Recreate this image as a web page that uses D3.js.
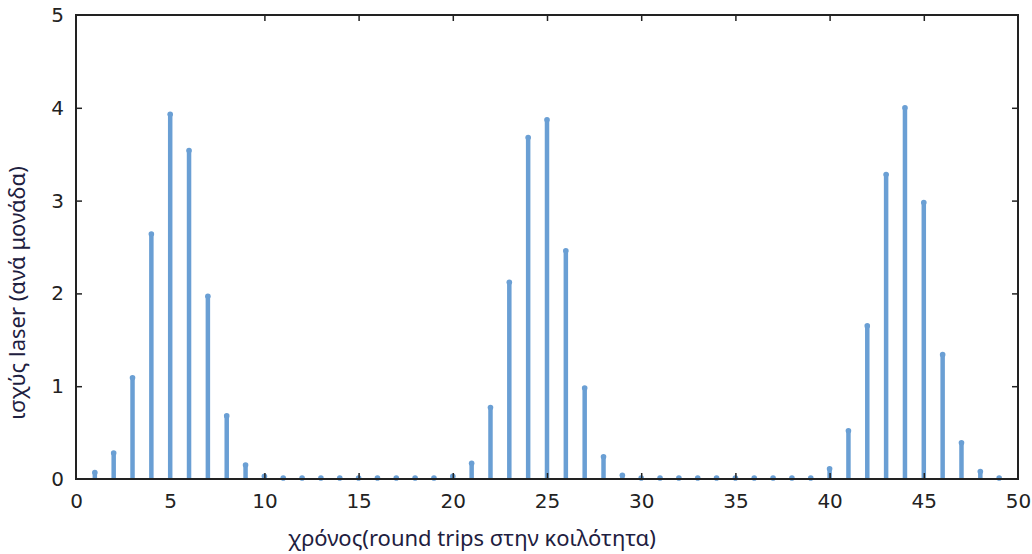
<!DOCTYPE html>
<html>
<head>
<meta charset="utf-8">
<script src="https://cdn.jsdelivr.net/npm/d3@7"></script>
<style>
  body { margin: 0; background: #fff; }
  svg { display: block; }
  .tick text { font-family: "DejaVu Sans", Verdana, sans-serif; font-size: 20px; fill: #222; }
  .axis-title { font-family: "Noto Sans", "Open Sans", sans-serif; font-size: 22px; fill: #1e2040; }
</style>
</head>
<body>
<svg id="chart" width="1032" height="554"></svg>
<script>
// round trips 1..49 and laser power per unit
const trips = d3.range(1, 50);
const power = [
  0.07, 0.28, 1.09, 2.64, 3.93, 3.54, 1.97, 0.68, 0.15, 0.03,
  0.01, 0.01, 0.01, 0.01, 0.01, 0.01, 0.01, 0.01, 0.01, 0.03,
  0.17, 0.77, 2.12, 3.68, 3.87, 2.46, 0.98, 0.24, 0.04, 0.01,
  0.01, 0.01, 0.01, 0.01, 0.01, 0.01, 0.01, 0.01, 0.01, 0.11,
  0.52, 1.65, 3.28, 4.00, 2.98, 1.34, 0.39, 0.08, 0.01
];
const xTicks = [0, 5, 10, 15, 20, 25, 30, 35, 40, 45, 50];
const yTicks = [0, 1, 2, 3, 4, 5];
const xTitle = "χρόνος(round trips στην κοιλότητα)";
const yTitle = "ισχύς laser (ανά μονάδα)";

const svg = d3.select("#chart");
const mLeft = 76, mRight = 1018, mTop = 15, mBottom = 479;
const barColor = "#6a9fd4";

const x = d3.scaleLinear().domain([0, 50]).range([mLeft, mRight]);
const y = d3.scaleLinear().domain([0, 5]).range([mBottom, mTop]);

// bars (impulses)
const data = trips.map((t, i) => ({ t: t, v: power[i] }));
svg.append("g").selectAll("line")
  .data(data)
  .enter().append("line")
  .attr("x1", d => x(d.t)).attr("x2", d => x(d.t))
  .attr("y1", y(0)).attr("y2", d => y(d.v))
  .attr("stroke", barColor)
  .attr("stroke-width", 4.5);

// small markers at the top of each bar
svg.append("g").selectAll("circle")
  .data(data)
  .enter().append("circle")
  .attr("cx", d => x(d.t))
  .attr("cy", d => y(d.v))
  .attr("r", 2.8)
  .attr("fill", barColor);

// axes with inward ticks
const axisStyle = g => {
  g.select(".domain").remove();
  g.selectAll(".tick line").attr("stroke", "#222").attr("stroke-width", 1.5);
};

svg.append("g")
  .attr("transform", `translate(0,${mBottom})`)
  .call(d3.axisBottom(x).tickValues(xTicks).tickSize(-6).tickPadding(11))
  .call(axisStyle)
  .call(g => g.selectAll(".tick text").attr("dy", "0.9em"));

svg.append("g")
  .attr("transform", `translate(0,${mTop})`)
  .call(d3.axisTop(x).tickValues(xTicks).tickSize(-6).tickFormat(""))
  .call(axisStyle);

svg.append("g")
  .attr("transform", `translate(${mLeft},0)`)
  .call(d3.axisLeft(y).tickValues(yTicks).tickSize(-6).tickPadding(12).tickFormat(d3.format("d")))
  .call(axisStyle);

svg.append("g")
  .attr("transform", `translate(${mRight},0)`)
  .call(d3.axisRight(y).tickValues(yTicks).tickSize(-6).tickFormat(""))
  .call(axisStyle);

// remove end ticks that sit on the frame corners
svg.selectAll(".tick").filter(d => d === 0 || d === 50 || d === 5).select("line").remove();

// frame
svg.append("rect")
  .attr("x", mLeft).attr("y", mTop)
  .attr("width", mRight - mLeft).attr("height", mBottom - mTop)
  .attr("fill", "none")
  .attr("stroke", "#222")
  .attr("stroke-width", 2);

svg.append("text")
  .attr("class", "axis-title")
  .attr("x", 472).attr("y", 546)
  .attr("text-anchor", "middle")
  .text(xTitle);

svg.append("text")
  .attr("class", "axis-title")
  .attr("transform", "translate(25,293) rotate(-90)")
  .attr("text-anchor", "middle")
  .text(yTitle);
</script>
</body>
</html>
